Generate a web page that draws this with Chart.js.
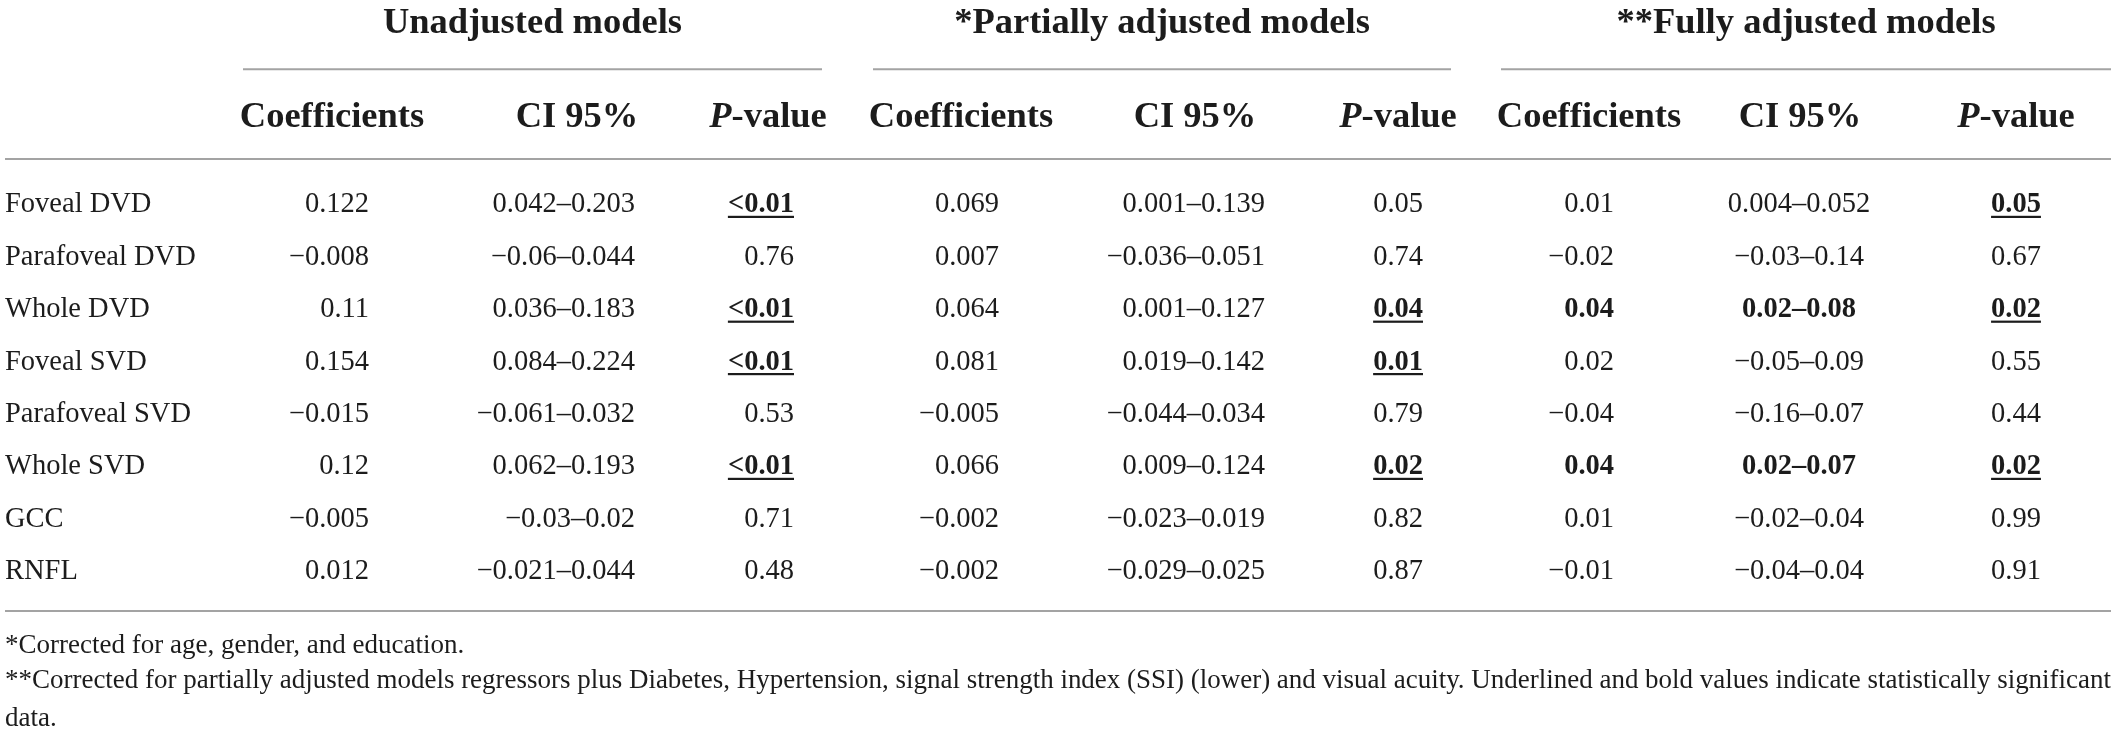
<!DOCTYPE html>
<html>
<head>
<meta charset="utf-8">
<script src="https://cdn.jsdelivr.net/npm/chart.js@4.4.1/dist/chart.umd.min.js"></script>
<style>
  html, body { margin: 0; padding: 0; background: #fff; }
  canvas { display: block; }
</style>
</head>
<body>
<canvas id="chart-regression" width="2117" height="733"></canvas>
<script>
// table values
var rowNames = ['Foveal DVD', 'Parafoveal DVD', 'Whole DVD', 'Foveal SVD', 'Parafoveal SVD', 'Whole SVD', 'GCC', 'RNFL'];

var unadjCoef = [0.122, -0.008, 0.11, 0.154, -0.015, 0.12, -0.005, 0.012];
var unadjLow = [0.042, -0.06, 0.036, 0.084, -0.061, 0.062, -0.03, -0.021];
var unadjHigh = [0.203, 0.044, 0.183, 0.224, 0.032, 0.193, 0.02, 0.044];
var unadjP = ['<0.01', '0.76', '<0.01', '<0.01', '0.53', '<0.01', '0.71', '0.48'];
var unadjSig = [0, 2, 3, 5];

var partCoef = [0.069, 0.007, 0.064, 0.081, -0.005, 0.066, -0.002, -0.002];
var partLow = [0.001, -0.036, 0.001, 0.019, -0.044, 0.009, -0.023, -0.029];
var partHigh = [0.139, 0.051, 0.127, 0.142, 0.034, 0.124, 0.019, 0.025];
var partP = ['0.05', '0.74', '0.04', '0.01', '0.79', '0.02', '0.82', '0.87'];
var partSig = [2, 3, 5];

var fullCoef = [0.01, -0.02, 0.04, 0.02, -0.04, 0.04, 0.01, -0.01];
var fullLow = [0.004, -0.03, 0.02, -0.05, -0.16, 0.02, -0.02, -0.04];
var fullHigh = [0.052, 0.14, 0.08, 0.09, 0.07, 0.07, 0.04, 0.04];
var fullP = ['0.05', '0.67', '0.02', '0.55', '0.44', '0.02', '0.99', '0.91'];
var fullSig = [0, 2, 5];
var fullBold = [2, 5];

var groupTitles = ['Unadjusted models', '*Partially adjusted models', '**Fully adjusted models'];
var colHeaders = ['Coefficients', 'CI 95%', 'P-value'];
var footnotes = [
    '*Corrected for age, gender, and education.',
    '**Corrected for partially adjusted models regressors plus Diabetes, Hypertension, signal strength index (SSI) (lower) and visual acuity. Underlined and bold values indicate statistically significant',
    'data.'
];

// layout (x in scale units, the x scale spans the canvas width)
var layout = {
    width: 2117,
    labelX: 5,
    ruleFrom: 5,
    ruleTo: 2111,
    groups: [[243, 822], [873, 1451], [1501, 2111]],
    headCenters: [332, 577, 768, 961, 1195, 1398, 1589, 1800, 2016],
    anchors: [369, 635, 794, 999, 1265, 1423, 1614, 1799, 2016],
    aligns: ['right', 'right', 'right', 'right', 'right', 'right', 'right', 'center', 'center'],
    titleDy: -143.3,
    groupRuleDy: -107.1,
    headDy: -49.3,
    headRuleDy: -17.3,
    bottomRuleDy: 15.5,
    noteDy: [57.5, 92.5, 130.5]
};

var FONT = '"Liberation Serif", "Times New Roman", serif';
var INK = '#1c1c1c';
var RULE = '#a3a3a3';

function fmt(v) {
    return String(v).replace('-', '\u2212');
}
function range(lo, hi) {
    return fmt(lo) + '\u2013' + fmt(hi);
}
function flags(list) {
    return rowNames.map(function (_, i) { return list.indexOf(i) >= 0; });
}

var columns = [
    { texts: unadjCoef.map(fmt), bold: flags([]), under: flags([]) },
    { texts: unadjLow.map(function (v, i) { return range(v, unadjHigh[i]); }), bold: flags([]), under: flags([]) },
    { texts: unadjP, bold: flags(unadjSig), under: flags(unadjSig) },
    { texts: partCoef.map(fmt), bold: flags([]), under: flags([]) },
    { texts: partLow.map(function (v, i) { return range(v, partHigh[i]); }), bold: flags([]), under: flags([]) },
    { texts: partP, bold: flags(partSig), under: flags(partSig) },
    { texts: fullCoef.map(fmt), bold: flags(fullBold), under: flags([]) },
    { texts: fullLow.map(function (v, i) { return range(v, fullHigh[i]); }), bold: flags(fullBold), under: flags([]) },
    { texts: fullP, bold: flags(fullSig), under: flags(fullSig) }
];

var datasets = [{
    label: 'rows',
    data: rowNames.map(function (_, i) { return { x: layout.labelX, y: i }; }),
    texts: rowNames,
    bold: flags([]),
    under: flags([]),
    align: 'left'
}];
columns.forEach(function (c, k) {
    datasets.push({
        label: 'col' + k,
        data: rowNames.map(function (_, i) { return { x: layout.anchors[k], y: i }; }),
        texts: c.texts,
        bold: c.bold,
        under: c.under,
        align: layout.aligns[k]
    });
});

function drawText(ctx, text, x, y, align, font, underline) {
    ctx.font = font;
    ctx.textAlign = align;
    ctx.textBaseline = 'alphabetic';
    ctx.fillStyle = INK;
    ctx.fillText(text, x, y);
    if (underline) {
        var w = ctx.measureText(text).width;
        var left = align === 'right' ? x - w : (align === 'center' ? x - w / 2 : x);
        ctx.fillRect(left, y + 3.5, w, 2.2);
    }
}

function hRule(ctx, x1, x2, y) {
    ctx.save();
    ctx.strokeStyle = RULE;
    ctx.lineWidth = 2;
    ctx.beginPath();
    ctx.moveTo(x1, y);
    ctx.lineTo(x2, y);
    ctx.stroke();
    ctx.restore();
}

var tablePlugin = {
    id: 'tableText',
    afterDatasetsDraw: function (chart) {
        var ctx = chart.ctx;
        var xs = chart.scales.x;
        var area = chart.chartArea;
        var rowSize = 28.5;
        var headFont = 'bold 36.5px ' + FONT;
        var headItalic = 'italic bold 36.5px ' + FONT;

        ctx.save();
        // body cells
        chart.data.datasets.forEach(function (ds, d) {
            var meta = chart.getDatasetMeta(d);
            meta.data.forEach(function (pt, j) {
                var font = (ds.bold[j] ? 'bold ' : '') + rowSize + 'px ' + FONT;
                drawText(ctx, ds.texts[j], pt.x, pt.y + 9.8, ds.align, font, ds.under[j]);
            });
        });

        // group titles and their rules
        layout.groups.forEach(function (g, k) {
            var x1 = xs.getPixelForValue(g[0]);
            var x2 = xs.getPixelForValue(g[1]);
            drawText(ctx, groupTitles[k], (x1 + x2) / 2, area.top + layout.titleDy, 'center', headFont, false);
            hRule(ctx, x1, x2, area.top + layout.groupRuleDy);
        });

        // column headers
        layout.headCenters.forEach(function (cx, k) {
            var label = colHeaders[k % 3];
            var x = xs.getPixelForValue(cx);
            var y = area.top + layout.headDy;
            if (label === 'P-value') {
                ctx.font = headItalic;
                var wP = ctx.measureText('P').width;
                ctx.font = headFont;
                var wR = ctx.measureText('-value').width;
                var left = x - (wP + wR) / 2;
                drawText(ctx, 'P', left, y, 'left', headItalic, false);
                drawText(ctx, '-value', left + wP, y, 'left', headFont, false);
            } else {
                drawText(ctx, label, x, y, 'center', headFont, false);
            }
        });

        var r1 = xs.getPixelForValue(layout.ruleFrom);
        var r2 = xs.getPixelForValue(layout.ruleTo);
        hRule(ctx, r1, r2, area.top + layout.headRuleDy);
        hRule(ctx, r1, r2, area.bottom + layout.bottomRuleDy);

        // footnotes
        layout.noteDy.forEach(function (dy, k) {
            ctx.font = '27px ' + FONT;
            ctx.textAlign = 'left';
            ctx.textBaseline = 'alphabetic';
            ctx.fillStyle = INK;
            ctx.fillText(footnotes[k], xs.getPixelForValue(layout.labelX), area.bottom + dy, r2 - r1);
        });
        ctx.restore();
    }
};

var config = {
    type: 'scatter',
    data: { datasets: datasets },
    options: {
        responsive: false,
        devicePixelRatio: 1,
        animation: false,
        layout: { padding: { top: 176.3, bottom: 137.5, left: 0, right: 0 } },
        elements: { point: { radius: 0, hoverRadius: 0 } },
        scales: {
            x: { type: 'linear', min: 0, max: layout.width, display: false },
            y: { type: 'linear', min: -0.5, max: rowNames.length - 0.5, reverse: true, display: false }
        },
        plugins: {
            legend: { display: false },
            tooltip: { enabled: false }
        }
    },
    plugins: [tablePlugin]
};

window.onload = function () {
    var ctx = document.getElementById('chart-regression').getContext('2d');
    window.myTable = new Chart(ctx, config);
};
</script>
</body>
</html>
